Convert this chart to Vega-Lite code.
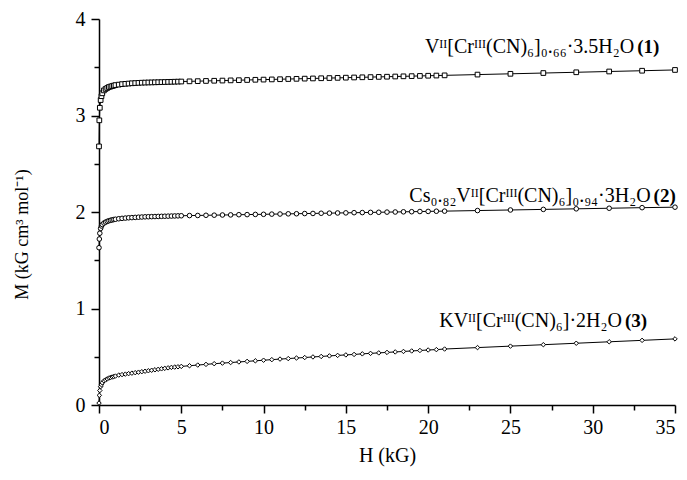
{
  "$schema": "https://vega.github.io/schema/vega-lite/v6.json",
  "width": 576,
  "height": 386,
  "autosize": {"type": "none"},
  "padding": {"left": 99, "top": 19, "right": 12, "bottom": 75},
  "background": "white",
  "config": {
    "view": {"stroke": null},
    "font": "Liberation Serif",
    "axis": {
      "grid": false,
      "domainColor": "black",
      "domainWidth": 1.5,
      "tickColor": "black",
      "tickWidth": 1.5,
      "tickSize": 8,
      "labelColor": "black",
      "labelFont": "Liberation Serif",
      "labelFontSize": 20,
      "titleFont": "Liberation Serif",
      "titleFontSize": 20,
      "titleFontWeight": "normal",
      "titleColor": "black"
    }
  },
  "datasets": {
    "pts": [
      {"s":"1","H":0,"M":2.68},{"s":"1","H":0.02,"M":2.95},{"s":"1","H":0.05,"M":3.08},{"s":"1","H":0.1,"M":3.16},{"s":"1","H":0.15,"M":3.2},{"s":"1","H":0.2,"M":3.23},{"s":"1","H":0.3,"M":3.26},{"s":"1","H":0.4,"M":3.275},{"s":"1","H":0.5,"M":3.285},{"s":"1","H":0.6,"M":3.295},{"s":"1","H":0.7,"M":3.3},{"s":"1","H":0.8,"M":3.305},{"s":"1","H":0.9,"M":3.31},{"s":"1","H":1.0,"M":3.315},{"s":"1","H":1.2,"M":3.32},{"s":"1","H":1.4,"M":3.325},{"s":"1","H":1.6,"M":3.328},{"s":"1","H":1.8,"M":3.331},{"s":"1","H":2.0,"M":3.334},{"s":"1","H":2.2,"M":3.336},{"s":"1","H":2.4,"M":3.338},{"s":"1","H":2.6,"M":3.34},{"s":"1","H":2.8,"M":3.341},{"s":"1","H":3.0,"M":3.342},{"s":"1","H":3.2,"M":3.343},{"s":"1","H":3.4,"M":3.344},{"s":"1","H":3.6,"M":3.345},{"s":"1","H":3.8,"M":3.346},{"s":"1","H":4.0,"M":3.347},{"s":"1","H":4.2,"M":3.348},{"s":"1","H":4.4,"M":3.349},{"s":"1","H":4.6,"M":3.35},{"s":"1","H":4.8,"M":3.351},{"s":"1","H":5.0,"M":3.352},
      {"s":"1","H":5.5,"M":3.354},{"s":"1","H":6,"M":3.356},{"s":"1","H":6.5,"M":3.358},{"s":"1","H":7,"M":3.36},{"s":"1","H":7.5,"M":3.362},{"s":"1","H":8,"M":3.364},{"s":"1","H":8.5,"M":3.366},{"s":"1","H":9,"M":3.368},{"s":"1","H":9.5,"M":3.37},{"s":"1","H":10,"M":3.372},{"s":"1","H":10.5,"M":3.374},{"s":"1","H":11,"M":3.376},{"s":"1","H":11.5,"M":3.378},{"s":"1","H":12,"M":3.38},{"s":"1","H":12.5,"M":3.382},{"s":"1","H":13,"M":3.384},{"s":"1","H":13.5,"M":3.386},{"s":"1","H":14,"M":3.388},{"s":"1","H":14.5,"M":3.39},{"s":"1","H":15,"M":3.392},{"s":"1","H":15.5,"M":3.394},{"s":"1","H":16,"M":3.396},{"s":"1","H":16.5,"M":3.398},{"s":"1","H":17,"M":3.4},{"s":"1","H":17.5,"M":3.402},{"s":"1","H":18,"M":3.404},{"s":"1","H":18.5,"M":3.406},{"s":"1","H":19,"M":3.408},{"s":"1","H":19.5,"M":3.41},{"s":"1","H":20,"M":3.412},{"s":"1","H":20.5,"M":3.414},
      {"s":"1","H":21,"M":3.416},{"s":"1","H":23,"M":3.424},{"s":"1","H":25,"M":3.432},{"s":"1","H":27,"M":3.44},{"s":"1","H":29,"M":3.448},{"s":"1","H":31,"M":3.456},{"s":"1","H":33,"M":3.464},{"s":"1","H":35,"M":3.472},

      {"s":"2","H":0,"M":1.63},{"s":"2","H":0.02,"M":1.72},{"s":"2","H":0.05,"M":1.78},{"s":"2","H":0.1,"M":1.83},{"s":"2","H":0.15,"M":1.855},{"s":"2","H":0.2,"M":1.87},{"s":"2","H":0.3,"M":1.885},{"s":"2","H":0.4,"M":1.895},{"s":"2","H":0.5,"M":1.903},{"s":"2","H":0.6,"M":1.909},{"s":"2","H":0.7,"M":1.914},{"s":"2","H":0.8,"M":1.918},{"s":"2","H":0.9,"M":1.922},{"s":"2","H":1.0,"M":1.925},{"s":"2","H":1.2,"M":1.93},{"s":"2","H":1.4,"M":1.934},{"s":"2","H":1.6,"M":1.937},{"s":"2","H":1.8,"M":1.94},{"s":"2","H":2.0,"M":1.942},{"s":"2","H":2.2,"M":1.944},{"s":"2","H":2.4,"M":1.946},{"s":"2","H":2.6,"M":1.948},{"s":"2","H":2.8,"M":1.95},{"s":"2","H":3.0,"M":1.951},{"s":"2","H":3.2,"M":1.952},{"s":"2","H":3.4,"M":1.953},{"s":"2","H":3.6,"M":1.954},{"s":"2","H":3.8,"M":1.955},{"s":"2","H":4.0,"M":1.956},{"s":"2","H":4.2,"M":1.957},{"s":"2","H":4.4,"M":1.958},{"s":"2","H":4.6,"M":1.959},{"s":"2","H":4.8,"M":1.96},{"s":"2","H":5.0,"M":1.961},
      {"s":"2","H":5.5,"M":1.963},{"s":"2","H":6,"M":1.964},{"s":"2","H":6.5,"M":1.966},{"s":"2","H":7,"M":1.967},{"s":"2","H":7.5,"M":1.969},{"s":"2","H":8,"M":1.97},{"s":"2","H":8.5,"M":1.972},{"s":"2","H":9,"M":1.973},{"s":"2","H":9.5,"M":1.975},{"s":"2","H":10,"M":1.976},{"s":"2","H":10.5,"M":1.978},{"s":"2","H":11,"M":1.979},{"s":"2","H":11.5,"M":1.981},{"s":"2","H":12,"M":1.982},{"s":"2","H":12.5,"M":1.984},{"s":"2","H":13,"M":1.985},{"s":"2","H":13.5,"M":1.987},{"s":"2","H":14,"M":1.988},{"s":"2","H":14.5,"M":1.99},{"s":"2","H":15,"M":1.991},{"s":"2","H":15.5,"M":1.993},{"s":"2","H":16,"M":1.994},{"s":"2","H":16.5,"M":1.996},{"s":"2","H":17,"M":1.997},{"s":"2","H":17.5,"M":1.999},{"s":"2","H":18,"M":2.0},{"s":"2","H":18.5,"M":2.002},{"s":"2","H":19,"M":2.003},{"s":"2","H":19.5,"M":2.005},{"s":"2","H":20,"M":2.006},{"s":"2","H":20.5,"M":2.008},
      {"s":"2","H":21,"M":2.009},{"s":"2","H":23,"M":2.015},{"s":"2","H":25,"M":2.021},{"s":"2","H":27,"M":2.027},{"s":"2","H":29,"M":2.033},{"s":"2","H":31,"M":2.039},{"s":"2","H":33,"M":2.045},{"s":"2","H":35,"M":2.05},

      {"s":"3","H":0,"M":0.02},{"s":"3","H":0.02,"M":0.1},{"s":"3","H":0.05,"M":0.15},{"s":"3","H":0.1,"M":0.19},{"s":"3","H":0.15,"M":0.21},{"s":"3","H":0.2,"M":0.23},{"s":"3","H":0.3,"M":0.25},{"s":"3","H":0.4,"M":0.26},{"s":"3","H":0.5,"M":0.27},{"s":"3","H":0.6,"M":0.28},{"s":"3","H":0.7,"M":0.285},{"s":"3","H":0.8,"M":0.29},{"s":"3","H":0.9,"M":0.295},{"s":"3","H":1.0,"M":0.3},{"s":"3","H":1.2,"M":0.31},{"s":"3","H":1.4,"M":0.315},{"s":"3","H":1.6,"M":0.32},{"s":"3","H":1.8,"M":0.325},{"s":"3","H":2.0,"M":0.33},{"s":"3","H":2.2,"M":0.335},{"s":"3","H":2.4,"M":0.34},{"s":"3","H":2.6,"M":0.345},{"s":"3","H":2.8,"M":0.35},{"s":"3","H":3.0,"M":0.355},{"s":"3","H":3.2,"M":0.36},{"s":"3","H":3.4,"M":0.365},{"s":"3","H":3.6,"M":0.37},{"s":"3","H":3.8,"M":0.375},{"s":"3","H":4.0,"M":0.38},{"s":"3","H":4.2,"M":0.385},{"s":"3","H":4.4,"M":0.39},{"s":"3","H":4.6,"M":0.393},{"s":"3","H":4.8,"M":0.396},{"s":"3","H":5.0,"M":0.4},
      {"s":"3","H":5.5,"M":0.407},{"s":"3","H":6,"M":0.414},{"s":"3","H":6.5,"M":0.421},{"s":"3","H":7,"M":0.428},{"s":"3","H":7.5,"M":0.434},{"s":"3","H":8,"M":0.44},{"s":"3","H":8.5,"M":0.446},{"s":"3","H":9,"M":0.452},{"s":"3","H":9.5,"M":0.458},{"s":"3","H":10,"M":0.464},{"s":"3","H":10.5,"M":0.47},{"s":"3","H":11,"M":0.476},{"s":"3","H":11.5,"M":0.481},{"s":"3","H":12,"M":0.487},{"s":"3","H":12.5,"M":0.492},{"s":"3","H":13,"M":0.498},{"s":"3","H":13.5,"M":0.503},{"s":"3","H":14,"M":0.509},{"s":"3","H":14.5,"M":0.514},{"s":"3","H":15,"M":0.519},{"s":"3","H":15.5,"M":0.524},{"s":"3","H":16,"M":0.53},{"s":"3","H":16.5,"M":0.535},{"s":"3","H":17,"M":0.54},{"s":"3","H":17.5,"M":0.545},{"s":"3","H":18,"M":0.55},{"s":"3","H":18.5,"M":0.555},{"s":"3","H":19,"M":0.56},{"s":"3","H":19.5,"M":0.565},{"s":"3","H":20,"M":0.57},{"s":"3","H":20.5,"M":0.574},
      {"s":"3","H":21,"M":0.58},{"s":"3","H":23,"M":0.595},{"s":"3","H":25,"M":0.61},{"s":"3","H":27,"M":0.625},{"s":"3","H":29,"M":0.64},{"s":"3","H":31,"M":0.655},{"s":"3","H":33,"M":0.67},{"s":"3","H":35,"M":0.685}
    ],
    "labels": [
      {"H":32.7,"M":3.65,"f":"Vᴵᴵ[Crᴵᴵᴵ(CN)₆]₀.₆₆·3.5H₂O","n":"(1)"},
      {"H":33.7,"M":2.1,"f":"Cs₀.₈₂Vᴵᴵ[Crᴵᴵᴵ(CN)₆]₀.₉₄·3H₂O","n":"(2)"},
      {"H":31.96,"M":0.81,"f":"KVᴵᴵ[Crᴵᴵᴵ(CN)₆]·2H₂O","n":"(3)"}
    ]
  },
  "data": {"name": "pts"},
  "resolve": {"scale": {"x": "independent", "y": "independent"}, "axis": {"x": "independent", "y": "independent"}},
  "layer": [
    {
      "layer": [
        {
          "mark": {"type": "line", "color": "black", "strokeWidth": 1},
          "encoding": {
            "x": {
              "field": "H", "type": "quantitative",
              "scale": {"domain": [0, 35], "nice": false, "zero": false},
              "axis": {
                "title": "H (kG)",
                "orient": "bottom",
                "values": [0,5,10,15,20,25,30,35],
                "format": "d",
                "labelPadding": 4,
                "titlePadding": 8
              }
            },
            "y": {
              "field": "M", "type": "quantitative",
              "scale": {"domain": [0, 4], "nice": false},
              "axis": {
                "title": "M (kG cm³ mol⁻¹)",
                "orient": "left",
                "titleFontSize": 18,
                "titleY": 215,
                "values": [0,1,2,3,4],
                "format": "d",
                "labelPadding": 6,
                "titlePadding": 44
              }
            },
            "detail": {"field": "s", "type": "nominal"}
          }
        },
        {
          "data": {"name": "labels"},
          "mark": {"type": "text", "align": "right", "baseline": "alphabetic", "dx": -3, "fontSize": 20, "font": "Liberation Serif", "color": "black"},
          "encoding": {
            "x": {"field": "H", "type": "quantitative"},
            "y": {"field": "M", "type": "quantitative"},
            "text": {"field": "f"}
          }
        },
        {
          "data": {"name": "labels"},
          "mark": {"type": "text", "align": "left", "baseline": "alphabetic", "fontSize": 19, "fontWeight": "bold", "font": "Liberation Serif", "color": "black"},
          "encoding": {
            "x": {"field": "H", "type": "quantitative"},
            "y": {"field": "M", "type": "quantitative"},
            "text": {"field": "n"}
          }
        }
      ]
    },
    {
      "mark": {"type": "point", "filled": true, "fill": "white", "stroke": "black", "strokeWidth": 1, "opacity": 1},
      "encoding": {
        "x": {
          "field": "H", "type": "quantitative",
          "scale": {"domain": [0, 35], "nice": false, "zero": false},
          "axis": {"orient": "bottom", "values": [2.5,7.5,12.5,17.5,22.5,27.5,32.5], "labels": false, "domain": false, "title": null, "tickSize": 5, "tickColor": "black", "tickWidth": 1.5}
        },
        "y": {
          "field": "M", "type": "quantitative",
          "scale": {"domain": [0, 4], "nice": false},
          "axis": {"orient": "left", "values": [0.5,1.5,2.5,3.5], "labels": false, "domain": false, "title": null, "tickSize": 5, "tickColor": "black", "tickWidth": 1.5}
        },
        "shape": {
          "field": "s", "type": "nominal",
          "scale": {"domain": ["1","2","3"], "range": ["square","circle","diamond"]},
          "legend": null
        },
        "size": {
          "field": "s", "type": "nominal",
          "scale": {"domain": ["1","2","3"], "range": [22, 20, 30]},
          "legend": null
        }
      }
    }
  ]
}
